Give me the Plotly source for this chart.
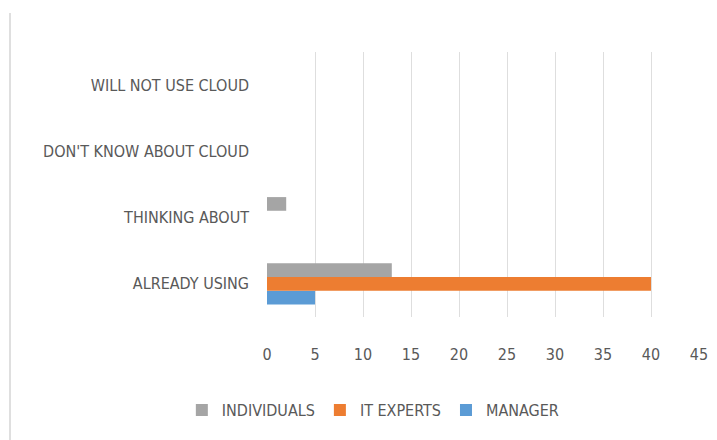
import plotly.graph_objects as go

categories = ["ALREADY USING", "THINKING ABOUT", "DON'T KNOW ABOUT CLOUD", "WILL NOT USE CLOUD"]
manager = [5, 0, 0, 0]
it_experts = [40, 0, 0, 0]
individuals = [13, 2, 0, 0]
x_ticks = [0, 5, 10, 15, 20, 25, 30, 35, 40, 45]

FONT = "DejaVu Sans Condensed, Liberation Sans Narrow, Arial Narrow, sans-serif"

fig = go.Figure()
fig.add_trace(go.Bar(y=categories, x=manager, name="MANAGER", orientation="h",
                     marker=dict(color="#5b9bd5", line=dict(width=0))))
fig.add_trace(go.Bar(y=categories, x=it_experts, name="IT EXPERTS", orientation="h",
                     marker=dict(color="#ed7d31", line=dict(width=0))))
fig.add_trace(go.Bar(y=categories, x=individuals, name="INDIVIDUALS", orientation="h",
                     marker=dict(color="#a5a5a5", line=dict(width=0))))

W, H = 717, 440
L, R, T, B = 267, 18, 52, 123
pw = W - L - R
ph = H - T - B

fig.update_layout(
    width=W, height=H,
    margin=dict(l=L, r=R, t=T, b=B, autoexpand=False),
    paper_bgcolor="white", plot_bgcolor="white",
    barmode="group", bargap=0.38, bargroupgap=0,
    font=dict(family=FONT, size=16, color="#595959"),
    showlegend=True,
    legend=dict(orientation="h", traceorder="reversed",
                xref="container", yref="container",
                x=0.52, xanchor="center", y=1 - 410 / H, yanchor="middle",
                font=dict(family=FONT, size=16, color="#595959"),
                itemwidth=30, itemsizing="constant"),
    xaxis=dict(range=[0, 45], tickvals=x_ticks, showgrid=True,
               gridcolor="#dedede", gridwidth=1, zeroline=False,
               showline=False, ticks="", ticklabelstandoff=26,
               tickfont=dict(family=FONT, size=16, color="#595959"),
               fixedrange=True),
    yaxis=dict(categoryorder="array", categoryarray=categories,
               showgrid=False, zeroline=False, showline=False, ticks="",
               ticklabelstandoff=17,
               tickfont=dict(family=FONT, size=16, color="#595959"),
               fixedrange=True),
)

# left frame line of the original image
fig.add_shape(type="line", xref="paper", yref="paper",
              x0=(10 - L) / pw, x1=(10 - L) / pw,
              y0=(H - B - 13) / ph, y1=(H - B - 440) / ph,
              line=dict(color="#bfbfbf", width=1))

fig.write_html("out.html", config={"displayModeBar": False},
               post_script="document.body.style.margin='0';")
